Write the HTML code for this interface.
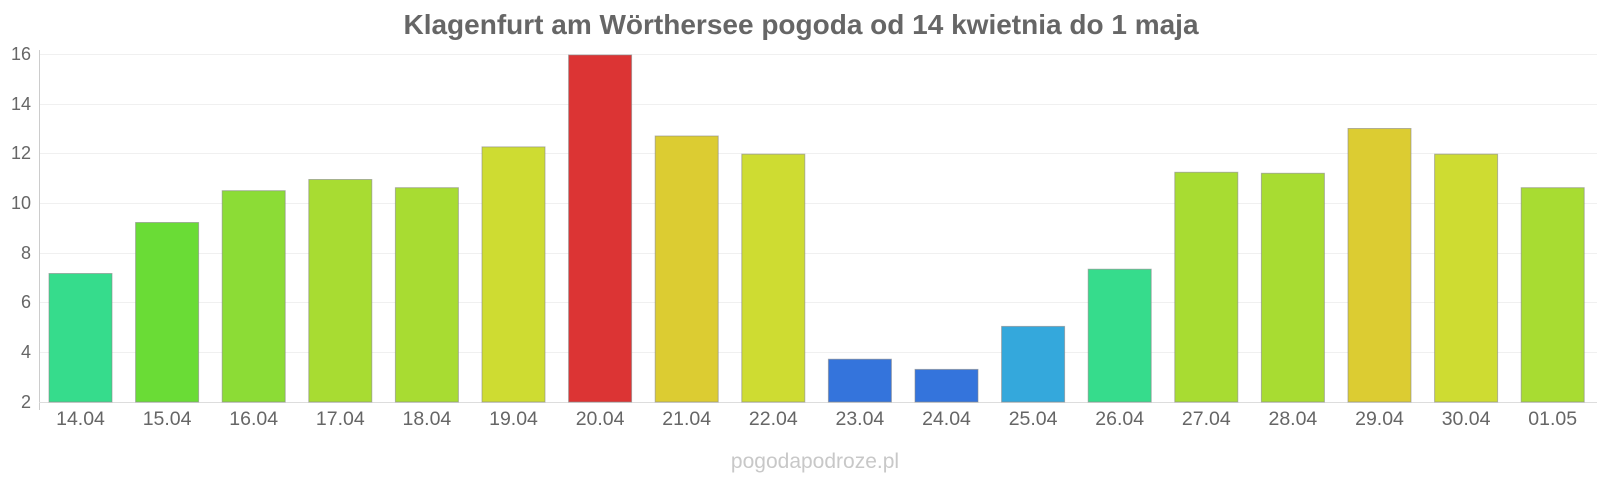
<!DOCTYPE html>
<html><head><meta charset="utf-8"><style>
body{margin:0;background:#fff;}
svg{display:block;font-family:"Liberation Sans",sans-serif;}
</style></head><body>
<svg width="1600" height="480" viewBox="0 0 1600 480" xmlns="http://www.w3.org/2000/svg">
<text x="801" y="34" text-anchor="middle" font-size="28" font-weight="bold" fill="#666">Klagenfurt am Wörthersee pogoda od 14 kwietnia do 1 maja</text>
<g stroke="#f0f0f0" stroke-width="1">
<line x1="39" x2="1597" y1="54.5" y2="54.5"/><line x1="39" x2="1597" y1="104.5" y2="104.5"/>
<line x1="39" x2="1597" y1="153.5" y2="153.5"/><line x1="39" x2="1597" y1="203.5" y2="203.5"/>
<line x1="39" x2="1597" y1="253.5" y2="253.5"/><line x1="39" x2="1597" y1="302.5" y2="302.5"/>
<line x1="39" x2="1597" y1="352.5" y2="352.5"/>
</g>
<line x1="39.5" x2="39.5" y1="50" y2="410" stroke="#ccc"/>
<line x1="39" x2="1597" y1="402.5" y2="402.5" stroke="#ddd"/>
<g font-size="18" fill="#666" text-anchor="end">
<text x="31" y="60">16</text><text x="31" y="110">14</text><text x="31" y="159">12</text>
<text x="31" y="209">10</text><text x="31" y="259">8</text><text x="31" y="308">6</text>
<text x="31" y="358">4</text><text x="31" y="408">2</text>
</g>
<g stroke-width="1" stroke-opacity="0.6" stroke="#888">
<rect x="49" y="273.5" width="63" height="128.5" fill="#36dc8c"/>
<rect x="135.6" y="222.5" width="63" height="179.5" fill="#6adc36"/>
<rect x="222.2" y="190.7" width="63" height="211.3" fill="#8cdc36"/>
<rect x="308.8" y="179.5" width="63" height="222.5" fill="#a8dc32"/>
<rect x="395.4" y="187.7" width="63" height="214.3" fill="#a8dc32"/>
<rect x="482" y="146.9" width="63" height="255.1" fill="#cedc32"/>
<rect x="568.6" y="55" width="63" height="347" fill="#dc3434"/>
<rect x="655.2" y="136" width="63" height="266" fill="#dccc32"/>
<rect x="741.8" y="154.2" width="63" height="247.8" fill="#cedc32"/>
<rect x="828.4" y="359.2" width="63" height="42.8" fill="#3474dc"/>
<rect x="915" y="369.4" width="63" height="32.6" fill="#3474dc"/>
<rect x="1001.6" y="326.4" width="63" height="75.6" fill="#34a8dc"/>
<rect x="1088.2" y="269.2" width="63" height="132.8" fill="#36dc8c"/>
<rect x="1174.8" y="172.3" width="63" height="229.7" fill="#a8dc32"/>
<rect x="1261.4" y="173.3" width="63" height="228.7" fill="#a8dc32"/>
<rect x="1348" y="128.5" width="63" height="273.5" fill="#dccc32"/>
<rect x="1434.6" y="154.2" width="63" height="247.8" fill="#cedc32"/>
<rect x="1521.2" y="187.7" width="63" height="214.3" fill="#a8dc32"/>
</g>
<g font-size="19.5" fill="#666" text-anchor="middle">
<text x="80.5" y="425">14.04</text><text x="167.1" y="425">15.04</text><text x="253.7" y="425">16.04</text>
<text x="340.3" y="425">17.04</text><text x="426.9" y="425">18.04</text><text x="513.5" y="425">19.04</text>
<text x="600.1" y="425">20.04</text><text x="686.7" y="425">21.04</text><text x="773.3" y="425">22.04</text>
<text x="859.9" y="425">23.04</text><text x="946.5" y="425">24.04</text><text x="1033.1" y="425">25.04</text>
<text x="1119.7" y="425">26.04</text><text x="1206.3" y="425">27.04</text><text x="1292.9" y="425">28.04</text>
<text x="1379.5" y="425">29.04</text><text x="1466.1" y="425">30.04</text><text x="1552.7" y="425">01.05</text>
</g>
<text x="815" y="468" text-anchor="middle" font-size="21" fill="#c8c8c8">pogodapodroze.pl</text>
</svg>
</body></html>
